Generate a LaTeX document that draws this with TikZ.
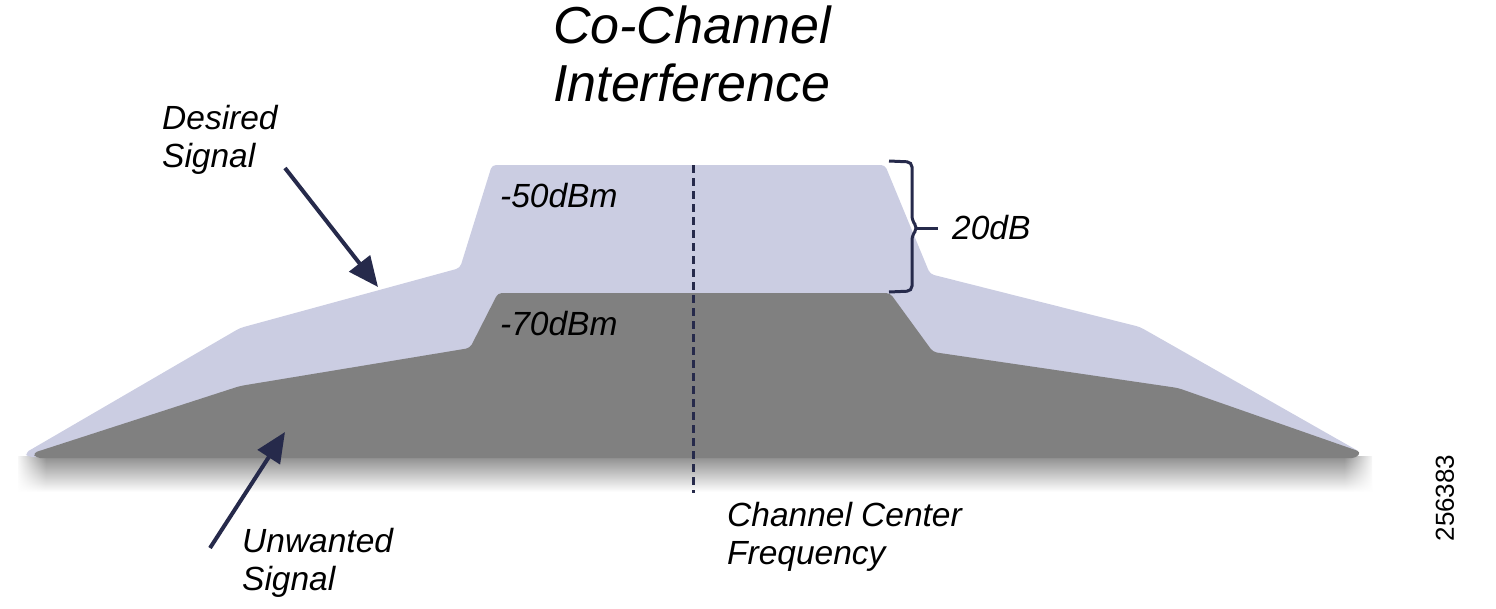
\documentclass[tikz,border=0pt]{standalone}
\usepackage{fontspec}
\setmainfont{Liberation Sans}
\usetikzlibrary{arrows.meta,positioning,fadings}

\definecolor{navy}{HTML}{262A4B}
\definecolor{lavender}{HTML}{CBCDE2}
\definecolor{unwgray}{HTML}{808080}

\begin{document}
\begin{tikzpicture}[x=1pt,y=-1pt,
  lbl/.style={inner sep=0pt,anchor=base west,align=left,font=\itshape\fontsize{33.5}{38}\selectfont},
  ttl/.style={inner sep=0pt,anchor=base west,align=left,font=\itshape\fontsize{52}{58}\selectfont},
  ptr/.style={draw=navy,line width=4pt,-{Triangle[length=30pt,width=26pt]}}]
\useasboundingbox (0,0) rectangle (1496,608);

% soft shadow under the spectrum
\shade[top color=black!45,bottom color=white] (18,456) rectangle (1372,492);
\fill[white,path fading=east] (16,454) rectangle (46,494);
\fill[white,path fading=west] (1344,454) rectangle (1374,494);

% desired signal
\fill[lavender,rounded corners=4pt] (25,453) -- (240,328) -- (460,268) -- (492,165) -- (885,165) -- (930,274)
  -- (1140,327) -- (1360,452) -- (1356,457) -- (28,457) -- cycle;
% unwanted signal
\fill[unwgray,rounded corners=4pt] (33,453) -- (240,386) -- (470,348) -- (498,293) -- (890,293) -- (933,352)
  -- (1178,388) -- (1361,452) -- (1356,458) -- (36,458) -- cycle;

% channel center
\coordinate (ctop) at (693,165);
\coordinate (cbot) at (693,493);
\draw[navy,line width=3pt,dash pattern=on 8pt off 5pt] (ctop) -- (cbot);

% 20dB brace
\draw[navy,line width=3pt,rounded corners=5pt] (889,161) -- (912,162) -- (912,221) -- (918,228) -- (912,235) -- (912,291) -- (889,292);
\draw[navy,line width=3pt] (917,228) -- (938,228);

\node[ttl] (title) at (553,101) {Co-Channel\\Interference};
\node[lbl] (desired) at (162,167) {Desired\\Signal};
\node[lbl] (unwanted) at (242,590) {Unwanted\\Signal};
\node[lbl] (center) at (727,564) {Channel Center\\Frequency};
\node[lbl] (p50) at (500,207) {-50dBm};
\node[lbl] (p70) at (500,335) {-70dBm};
\node[lbl] (gap) at (952,239) {20dB};
\node[rotate=90,inner sep=0pt,font=\fontsize{26}{30}\selectfont] (fig) at (1445,498) {256383};

\coordinate (dtail) at (285,168);
\coordinate (dtip) at (378,287);
\coordinate (utail) at (210,548);
\coordinate (utip) at (285,432);
\draw[ptr] (dtail) -- (dtip);
\draw[ptr] (utail) -- (utip);
\end{tikzpicture}
\end{document}
